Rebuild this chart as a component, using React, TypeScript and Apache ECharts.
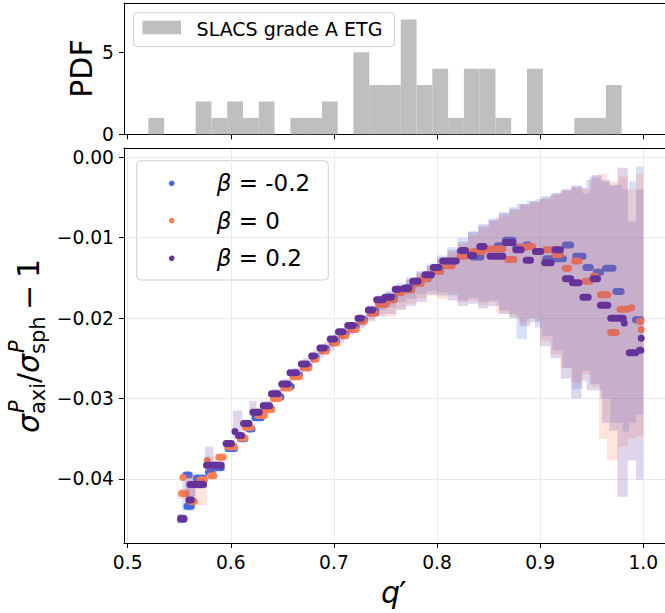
import React, { useEffect, useRef } from 'react';
import * as echarts from 'echarts';

// ---------- data ----------
const histBinEdges = [
  0.52, 0.5353, 0.5506, 0.5659, 0.5812, 0.5965, 0.6118, 0.6271, 0.6424, 0.6577,
  0.673, 0.6883, 0.7036, 0.7189, 0.7342, 0.7495, 0.7648, 0.7801, 0.7954, 0.8107,
  0.826, 0.8413, 0.8566, 0.8719, 0.8872, 0.9025, 0.9178, 0.9331, 0.9484, 0.9637, 0.979,
];
const histCounts = [1, 0, 0, 2, 1, 2, 1, 2, 0, 1, 1, 2, 0, 5, 3, 3, 7, 3, 4, 1, 4, 4, 1, 0, 4, 0, 0, 1, 1, 3];

const xTicks = [0.5, 0.6, 0.7, 0.8, 0.9, 1.0];
const yTicksTop = [0, 5];
const yTicksBottom = [0, -0.01, -0.02, -0.03, -0.04];

const betaLabels = ['-0.2', '0', '0.2'];
const betaColors = ['#4169e1', '#ff7f50', '#663399'];
const bandColors = ['rgba(65,105,225,0.2)', 'rgba(255,127,80,0.2)', 'rgba(102,51,153,0.2)'];

// dashes: [q' start, q' end, value]
const dashesBlue = [
  [0.548, 0.558, -0.045], [0.553, 0.563, -0.0395], [0.554, 0.565, -0.0434], [0.563, 0.577, -0.0399],
  [0.575, 0.585, -0.0392], [0.58, 0.594, -0.0386], [0.594, 0.607, -0.0362], [0.606, 0.617, -0.035],
  [0.614, 0.624, -0.0338], [0.62, 0.633, -0.0324], [0.63, 0.643, -0.0313], [0.64, 0.652, -0.0298],
  [0.649, 0.662, -0.0285], [0.657, 0.67, -0.0271], [0.667, 0.679, -0.026], [0.677, 0.686, -0.0248],
  [0.685, 0.696, -0.0238], [0.695, 0.706, -0.0229], [0.704, 0.715, -0.022], [0.713, 0.725, -0.021],
  [0.722, 0.733, -0.0202], [0.732, 0.744, -0.0191], [0.74, 0.754, -0.018], [0.749, 0.762, -0.0174],
  [0.759, 0.769, -0.0165], [0.767, 0.779, -0.0162], [0.776, 0.788, -0.0154], [0.785, 0.797, -0.0147],
  [0.796, 0.807, -0.0138], [0.805, 0.818, -0.0132], [0.819, 0.831, -0.0117], [0.831, 0.846, -0.0124],
  [0.855, 0.867, -0.011], [0.863, 0.877, -0.0103], [0.873, 0.887, -0.0112], [0.883, 0.892, -0.0109],
  [0.902, 0.926, -0.0126], [0.921, 0.933, -0.0109], [0.931, 0.945, -0.0123], [0.941, 0.952, -0.0137],
  [0.951, 0.962, -0.0143], [0.96, 0.974, -0.0138], [0.97, 0.982, -0.0167], [0.989, 1.001, -0.0202],
];
const dashesOrange = [
  [0.549, 0.56, -0.0418], [0.552, 0.555, -0.0398], [0.558, 0.568, -0.0428], [0.567, 0.578, -0.0401],
  [0.577, 0.587, -0.0396], [0.576, 0.578, -0.0377], [0.585, 0.596, -0.0373], [0.594, 0.607, -0.036],
  [0.606, 0.617, -0.0349], [0.611, 0.623, -0.0336], [0.623, 0.636, -0.0321], [0.63, 0.643, -0.0314],
  [0.638, 0.65, -0.03], [0.648, 0.66, -0.0287], [0.657, 0.67, -0.0273], [0.667, 0.679, -0.0262],
  [0.677, 0.686, -0.0251], [0.685, 0.696, -0.0241], [0.695, 0.706, -0.0231], [0.704, 0.715, -0.0222],
  [0.713, 0.725, -0.0214], [0.722, 0.733, -0.0204], [0.732, 0.744, -0.0194], [0.74, 0.754, -0.0183],
  [0.749, 0.762, -0.0177], [0.759, 0.769, -0.0168], [0.767, 0.779, -0.0165], [0.776, 0.788, -0.0157],
  [0.783, 0.795, -0.0151], [0.796, 0.807, -0.0142], [0.805, 0.818, -0.0135], [0.819, 0.831, -0.0123],
  [0.831, 0.848, -0.0117], [0.846, 0.867, -0.0114], [0.865, 0.878, -0.0127], [0.877, 0.89, -0.0112],
  [0.885, 0.896, -0.0111], [0.902, 0.919, -0.0115], [0.911, 0.923, -0.0121], [0.921, 0.931, -0.0138],
  [0.93, 0.941, -0.0129], [0.94, 0.952, -0.0154], [0.948, 0.957, -0.0148], [0.955, 0.969, -0.0171],
  [0.974, 0.988, -0.0189], [0.985, 0.992, -0.0187], [0.993, 1.001, -0.0204], [0.965, 0.977, -0.0218],
  [0.998, 0.998, -0.0214],
];
const dashesPurple = [
  [0.548, 0.558, -0.0449], [0.556, 0.565, -0.0426], [0.557, 0.577, -0.0407], [0.573, 0.594, -0.0383],
  [0.592, 0.604, -0.0356], [0.602, 0.606, -0.0341], [0.604, 0.614, -0.0346], [0.609, 0.621, -0.0331],
  [0.618, 0.631, -0.0317], [0.628, 0.641, -0.0309], [0.636, 0.649, -0.0294], [0.646, 0.659, -0.0282],
  [0.654, 0.667, -0.0268], [0.665, 0.677, -0.0257], [0.675, 0.684, -0.0247], [0.683, 0.694, -0.0237],
  [0.693, 0.704, -0.0226], [0.701, 0.712, -0.0217], [0.71, 0.722, -0.0209], [0.72, 0.73, -0.02],
  [0.73, 0.741, -0.019], [0.738, 0.751, -0.0177], [0.746, 0.759, -0.0174], [0.756, 0.766, -0.0164],
  [0.764, 0.776, -0.0163], [0.773, 0.785, -0.0154], [0.785, 0.798, -0.0146], [0.793, 0.805, -0.0137],
  [0.802, 0.822, -0.0129], [0.82, 0.831, -0.0116], [0.829, 0.839, -0.0122], [0.838, 0.849, -0.0111],
  [0.848, 0.867, -0.0123], [0.863, 0.877, -0.0106], [0.873, 0.885, -0.0115], [0.883, 0.894, -0.0128],
  [0.892, 0.904, -0.0117], [0.901, 0.914, -0.0131], [0.911, 0.923, -0.0115], [0.921, 0.933, -0.0151],
  [0.928, 0.941, -0.0156], [0.938, 0.95, -0.0174], [0.948, 0.959, -0.0151], [0.955, 0.969, -0.0184],
  [0.965, 0.984, -0.02], [0.981, 0.982, -0.0206], [0.998, 0.998, -0.0225], [0.983, 0.996, -0.0243],
  [0.993, 1.001, -0.024],
];

// bands: [q' step start, lower, upper]
const bandBlue = [
  [0.548, -0.0455, -0.0444], [0.553, -0.044, -0.0392], [0.565, -0.0405, -0.0394], [0.575, -0.0396, -0.0385],
  [0.585, -0.039, -0.038], [0.594, -0.0366, -0.0356], [0.606, -0.0353, -0.0345], [0.613, -0.0341, -0.0333],
  [0.62, -0.0328, -0.0319], [0.63, -0.0317, -0.0308], [0.64, -0.0302, -0.0293], [0.648, -0.0289, -0.028],
  [0.657, -0.0275, -0.0266], [0.667, -0.0264, -0.0255], [0.677, -0.0252, -0.0243], [0.685, -0.0242, -0.0233],
  [0.695, -0.0233, -0.0223], [0.704, -0.0224, -0.0214], [0.713, -0.0215, -0.0205], [0.722, -0.0207, -0.0196],
  [0.732, -0.0198, -0.0184], [0.74, -0.019, -0.0172], [0.75, -0.0186, -0.0166], [0.76, -0.018, -0.0157],
  [0.77, -0.0176, -0.0149], [0.78, -0.017, -0.0141], [0.79, -0.0166, -0.0132], [0.8, -0.0168, -0.0122],
  [0.81, -0.0172, -0.0112], [0.82, -0.0178, -0.01], [0.83, -0.0175, -0.0092], [0.84, -0.018, -0.0083],
  [0.85, -0.0178, -0.0076], [0.86, -0.019, -0.0068], [0.87, -0.0195, -0.0062], [0.877, -0.0226, -0.0058],
  [0.887, -0.02, -0.0054], [0.895, -0.0212, -0.0052], [0.902, -0.0222, -0.0048], [0.912, -0.024, -0.0044],
  [0.922, -0.0262, -0.004], [0.931, -0.0288, -0.0035], [0.941, -0.0265, -0.0045], [0.948, -0.0282, -0.0024],
  [0.958, -0.03, -0.0028], [0.968, -0.033, -0.0034], [0.98, -0.0341, -0.004], [0.986, -0.033, -0.003],
  [0.993, -0.032, -0.0011], [1.0, -0.032, -0.0011],
];
const bandOrange = [
  [0.548, -0.0425, -0.0412], [0.556, -0.0432, -0.0395], [0.566, -0.0433, -0.0398], [0.577, -0.04, -0.0372],
  [0.586, -0.0376, -0.0368], [0.594, -0.0363, -0.0355], [0.606, -0.0352, -0.0343], [0.611, -0.034, -0.033],
  [0.623, -0.0324, -0.0316], [0.63, -0.0317, -0.0308], [0.638, -0.0303, -0.0295], [0.648, -0.029, -0.0282],
  [0.657, -0.0277, -0.0268], [0.667, -0.0265, -0.0257], [0.677, -0.0254, -0.0246], [0.685, -0.0245, -0.0236],
  [0.695, -0.0235, -0.0225], [0.704, -0.0226, -0.0215], [0.713, -0.0218, -0.0207], [0.722, -0.021, -0.0198],
  [0.732, -0.0202, -0.0187], [0.74, -0.0195, -0.0176], [0.75, -0.0198, -0.017], [0.76, -0.0188, -0.016],
  [0.77, -0.0182, -0.0152], [0.78, -0.0176, -0.0145], [0.79, -0.017, -0.0136], [0.8, -0.0176, -0.0128],
  [0.81, -0.017, -0.0118], [0.82, -0.018, -0.0108], [0.83, -0.0178, -0.0097], [0.84, -0.0184, -0.0088],
  [0.85, -0.018, -0.008], [0.857, -0.0193, -0.0074], [0.87, -0.0198, -0.0066], [0.88, -0.0205, -0.006],
  [0.89, -0.02, -0.0056], [0.9, -0.0228, -0.0052], [0.91, -0.0245, -0.0047], [0.92, -0.0262, -0.0042],
  [0.93, -0.028, -0.0038], [0.94, -0.027, -0.004], [0.95, -0.0285, -0.0026], [0.957, -0.035, -0.002],
  [0.965, -0.0377, -0.003], [0.976, -0.036, -0.0024], [0.985, -0.035, -0.004], [0.993, -0.0347, -0.002],
  [1.0, -0.0347, -0.002],
];
const bandPurple = [
  [0.548, -0.0455, -0.0444], [0.556, -0.043, -0.0402], [0.566, -0.0412, -0.04], [0.575, -0.0392, -0.036],
  [0.583, -0.039, -0.0378], [0.594, -0.0362, -0.0352], [0.602, -0.035, -0.0315], [0.611, -0.0336, -0.0326],
  [0.618, -0.0322, -0.0303], [0.625, -0.0322, -0.0312], [0.63, -0.0313, -0.0303], [0.64, -0.0298, -0.0288],
  [0.65, -0.0286, -0.0276], [0.66, -0.0272, -0.0262], [0.67, -0.026, -0.025], [0.68, -0.025, -0.024],
  [0.69, -0.0241, -0.023], [0.7, -0.0231, -0.0219], [0.71, -0.0221, -0.0208], [0.72, -0.0213, -0.0198],
  [0.73, -0.0204, -0.0187], [0.74, -0.0198, -0.0175], [0.75, -0.0195, -0.0168], [0.76, -0.019, -0.016],
  [0.77, -0.0185, -0.0152], [0.78, -0.018, -0.0143], [0.79, -0.0172, -0.0135], [0.8, -0.0172, -0.0125],
  [0.81, -0.0178, -0.0115], [0.82, -0.0185, -0.0105], [0.83, -0.0182, -0.0093], [0.84, -0.0188, -0.0085],
  [0.85, -0.0185, -0.0078], [0.86, -0.0195, -0.007], [0.87, -0.02, -0.0064], [0.88, -0.021, -0.0058],
  [0.89, -0.0205, -0.0055], [0.9, -0.0235, -0.005], [0.91, -0.025, -0.0045], [0.92, -0.0275, -0.004],
  [0.93, -0.03, -0.0036], [0.94, -0.0278, -0.0038], [0.945, -0.029, -0.0028], [0.95, -0.029, -0.0022],
  [0.96, -0.033, -0.003], [0.967, -0.034, -0.0035], [0.975, -0.0422, -0.0013], [0.985, -0.0377, -0.008],
  [0.993, -0.0401, -0.004], [1.0, -0.0401, -0.004],
];

// ---------- layout ----------
const PX_PER_UNIT = 1031.2;
const GRID_LEFT = 124;
const GRID_WIDTH = 570; // extends beyond the right edge of the picture (cropped figure)
const X_MIN = 0.49641;
const X_MAX = X_MIN + GRID_WIDTH / PX_PER_UNIT;
const Y_TOP_MAX = 8;
const Y_BOT_MIN = -0.04796;
const Y_BOT_MAX = 0.001156;
const FONT = 'DejaVu Sans';
const TICK_FS = 18.7;

function dashSeries(rows: number[][], color: string) {
  return {
    type: 'custom',
    xAxisIndex: 1,
    yAxisIndex: 1,
    data: rows,
    silent: true,
    encode: { x: [0, 1], y: 2 },
    renderItem: (params: any, api: any) => {
      const p0 = api.coord([api.value(0), api.value(2)]);
      const p1 = api.coord([api.value(1), api.value(2)]);
      const h = 7;
      let l = p0[0];
      let r = p1[0];
      if (r - l < h) {
        const c = (l + r) / 2;
        l = c - h / 2;
        r = c + h / 2;
      }
      return {
        type: 'rect',
        shape: { x: l, y: p0[1] - h / 2, width: r - l, height: h, r: h / 2 },
        style: { fill: color },
      };
    },
  };
}

function bandSeries(rows: number[][], color: string) {
  return {
    type: 'custom',
    xAxisIndex: 1,
    yAxisIndex: 1,
    data: rows,
    silent: true,
    encode: { x: 0, y: [1, 2] },
    renderItem: (params: any, api: any) => {
      if (params.dataIndex !== 0) return null;
      const upper: number[][] = [];
      const lower: number[][] = [];
      for (let i = 0; i < rows.length - 1; i++) {
        const x = rows[i][0];
        const xn = rows[i + 1][0];
        upper.push(api.coord([x, rows[i][2]]), api.coord([xn, rows[i][2]]));
        lower.push(api.coord([x, rows[i][1]]), api.coord([xn, rows[i][1]]));
      }
      return {
        type: 'polygon',
        shape: { points: upper.concat(lower.reverse()) },
        style: { fill: color },
      };
    },
  };
}

function txt(x: number, y: number, text: string, fontSize: number, opts: any = {}) {
  return {
    type: 'text',
    x,
    y,
    rotation: opts.rotation || 0,
    silent: true,
    style: {
      text,
      fontSize,
      fontFamily: FONT,
      fontStyle: opts.italic ? 'italic' : 'normal',
      fill: '#000',
      align: opts.align || 'left',
      textAlign: opts.align || 'left',
      verticalAlign: 'middle',
      textVerticalAlign: 'middle',
      rich: opts.rich,
    },
  };
}

export default function App() {
  const ref = useRef<HTMLDivElement>(null);
  useEffect(() => {
    if (!ref.current) return;
    const chart = echarts.init(ref.current, null, { renderer: 'svg' });

    const histRows = histCounts
      .map((c, i) => [histBinEdges[i], histBinEdges[i + 1], c])
      .filter((r) => r[2] > 0);

    const axisLine = { show: true, onZero: false, lineStyle: { color: '#000', width: 1 } };
    const tickStyle = { color: '#000', width: 1 };

    const R = Math.PI / 2;
    const yLabel = [
      txt(28, 433, 'σ', 30, { rotation: R, italic: true }),
      txt(16.7, 413, 'P', 21, { rotation: R, italic: true }),
      txt(37.7, 414, 'axi', 21, { rotation: R }),
      txt(28, 383, '/', 30, { rotation: R }),
      txt(28, 373, 'σ', 30, { rotation: R, italic: true }),
      txt(16.7, 353, 'P', 21, { rotation: R, italic: true }),
      txt(37.7, 354, 'sph', 21, { rotation: R }),
      txt(28, 310, '−', 30, { rotation: R }),
      txt(28, 278, '1', 30, { rotation: R }),
    ];

    const legendRowsY = [183.3, 220.7, 258.3];
    const legendBottom: any[] = [
      {
        type: 'rect',
        silent: true,
        shape: { x: 136.7, y: 160.7, width: 191.6, height: 119.3, r: 4 },
        style: { fill: 'rgba(255,255,255,0.8)', stroke: '#d0d0d0', lineWidth: 1 },
      },
    ];
    betaLabels.forEach((b, i) => {
      legendBottom.push({
        type: 'circle',
        silent: true,
        shape: { cx: 171.7, cy: legendRowsY[i], r: 2.8 },
        style: { fill: betaColors[i] },
      });
      legendBottom.push(
        txt(216.7, legendRowsY[i], '{b|β} = ' + b, 23, {
          rich: { b: { fontStyle: 'italic', fontSize: 23, fontFamily: FONT, fill: '#000' } },
        })
      );
    });

    const legendTop = [
      {
        type: 'rect',
        silent: true,
        shape: { x: 133.5, y: 12.7, width: 261, height: 34, r: 4 },
        style: { fill: 'rgba(255,255,255,0.8)', stroke: '#d0d0d0', lineWidth: 1 },
      },
      {
        type: 'rect',
        silent: true,
        shape: { x: 142.5, y: 20.7, width: 38.5, height: 13.6 },
        style: { fill: '#bfbfbf' },
      },
      txt(196.6, 29.3, 'SLACS grade A ETG', 19),
    ];

    const gridCommon = {
      left: GRID_LEFT,
      width: GRID_WIDTH,
      show: false,
      containLabel: false,
      outerBoundsMode: 'none',
    };

    const bottomX = (gridIndex: number, withLabels: boolean) => ({
      type: 'value',
      gridIndex,
      position: 'bottom',
      min: X_MIN,
      max: X_MAX,
      axisLine,
      axisTick: { show: true, customValues: xTicks, length: 5, lineStyle: tickStyle },
      axisLabel: withLabels
        ? {
            customValues: xTicks,
            formatter: (v: number) => v.toFixed(1),
            fontSize: TICK_FS,
            fontFamily: FONT,
            color: '#000',
            margin: 10,
          }
        : { show: false },
      splitLine: withLabels
        ? { show: true, lineStyle: { color: '#ebebeb', width: 1 } }
        : { show: false },
    });
    const topSpine = (gridIndex: number) => ({
      type: 'value',
      gridIndex,
      position: 'top',
      min: X_MIN,
      max: X_MAX,
      axisLine,
      axisTick: { show: false },
      axisLabel: { show: false },
      splitLine: { show: false },
    });

    const option: any = {
      animation: false,
      backgroundColor: '#fff',
      grid: [
        { ...gridCommon, top: 3, height: 131.3 },
        { ...gridCommon, top: 148, height: 395 },
      ],
      xAxis: [bottomX(0, false), bottomX(1, true), topSpine(0), topSpine(1)],
      yAxis: [
        {
          type: 'value',
          gridIndex: 0,
          min: 0,
          max: Y_TOP_MAX,
          axisLine,
          axisTick: { show: true, customValues: yTicksTop, length: 5, lineStyle: tickStyle },
          axisLabel: {
            customValues: yTicksTop,
            fontSize: TICK_FS,
            fontFamily: FONT,
            color: '#000',
            margin: 10,
          },
          splitLine: { show: false },
        },
        {
          type: 'value',
          gridIndex: 1,
          min: Y_BOT_MIN,
          max: Y_BOT_MAX,
          axisLine,
          axisTick: { show: true, customValues: yTicksBottom, length: 5, lineStyle: tickStyle },
          axisLabel: {
            customValues: yTicksBottom,
            formatter: (v: number) => (v === 0 ? '0.00' : '−' + Math.abs(v).toFixed(2)),
            fontSize: TICK_FS,
            fontFamily: FONT,
            color: '#000',
            margin: 10,
          },
          splitLine: { show: true, lineStyle: { color: '#ebebeb', width: 1 } },
        },
      ],
      series: [
        {
          type: 'custom',
          xAxisIndex: 0,
          yAxisIndex: 0,
          data: histRows,
          silent: true,
          encode: { x: [0, 1], y: 2 },
          renderItem: (params: any, api: any) => {
            const a = api.coord([api.value(0), api.value(2)]);
            const b = api.coord([api.value(1), 0]);
            return {
              type: 'rect',
              shape: { x: a[0], y: a[1], width: b[0] - a[0], height: b[1] - a[1] },
              style: { fill: '#bfbfbf' },
            };
          },
        },
        dashSeries(dashesBlue, betaColors[0]),
        bandSeries(bandBlue, bandColors[0]),
        dashSeries(dashesOrange, betaColors[1]),
        bandSeries(bandOrange, bandColors[1]),
        dashSeries(dashesPurple, betaColors[2]),
        bandSeries(bandPurple, bandColors[2]),
      ],
      graphic: [
        txt(81, 68.5, 'PDF', 30, { rotation: R, align: 'center' }),
        ...yLabel,
        txt(381, 592, 'q', 30, { italic: true }),
        txt(399, 594, '′', 34),
        ...legendTop,
        ...legendBottom,
      ],
    };

    chart.setOption(option);
    return () => chart.dispose();
  }, []);

  return <div ref={ref} style={{ position: 'absolute', left: 0, top: 0, width: 665, height: 613 }} />;
}
